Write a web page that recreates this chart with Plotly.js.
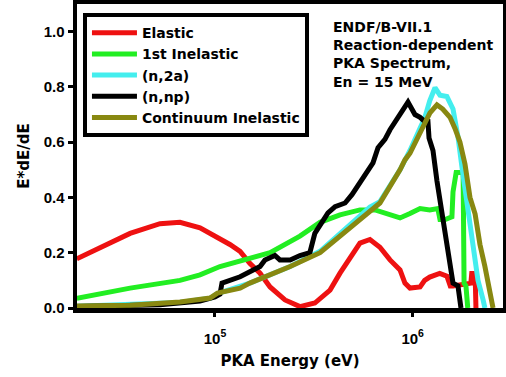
<!DOCTYPE html>
<html>
<head>
<meta charset="utf-8">
<script src="https://cdn.plot.ly/plotly-3.0.1.min.js"></script>
<style>html,body{margin:0;padding:0;background:#fff;}#chart{width:506px;height:377px;}</style>
</head>
<body>
<div id="chart"></div>
<script>
// Elastic
var elasticE = [2.0e4, 2.62e4, 3.72e4, 5.27e4, 6.65e4, 8.4e4, 1.06e5, 1.19e5, 1.34e5, 1.5e5, 1.69e5, 1.9e5, 2.26e5, 2.69e5, 3.2e5, 3.82e5, 4.29e5, 4.82e5, 5.41e5, 6.08e5, 6.83e5, 7.68e5, 8.63e5, 9.14e5, 9.69e5, 1.09e6, 1.15e6, 1.22e6, 1.37e6, 1.49e6, 1.55e6, 1.6e6, 1.74e6, 1.97e6, 1.99e6, 2.07e6, 2.09e6];
var elasticY = [0.178, 0.22, 0.27, 0.305, 0.31, 0.29, 0.253, 0.23, 0.205, 0.162, 0.126, 0.076, 0.029, 0.005, 0.018, 0.065, 0.126, 0.185, 0.235, 0.248, 0.22, 0.174, 0.138, 0.09, 0.072, 0.076, 0.10, 0.112, 0.125, 0.115, 0.08, 0.08, 0.085, 0.09, 0.125, 0.125, 0];
// 1st Inelastic
var inel1E = [2.0e4, 3.72e4, 6.65e4, 8.4e4, 1.06e5, 1.5e5, 1.9e5, 2.69e5, 3.4e5, 4.29e5, 5.41e5, 6.45e5, 6.83e5, 7.68e5, 8.63e5, 9.69e5, 1.09e6, 1.22e6, 1.34e6, 1.375e6, 1.46e6, 1.58e6, 1.6e6, 1.66e6, 1.8e6, 1.82e6, 1.86e6, 1.9e6];
var inel1Y = [0.035, 0.072, 0.10, 0.12, 0.15, 0.18, 0.20, 0.26, 0.31, 0.337, 0.355, 0.355, 0.35, 0.337, 0.326, 0.342, 0.36, 0.355, 0.36, 0.32, 0.32, 0.33, 0.42, 0.49, 0.49, 0.09, 0.08, 0];
// (n,2a)
var n2aE = [2.0e4, 6.65e4, 9.44e4, 1.03e5, 1.5e5, 2.4e5, 3.4e5, 4.29e5, 5.41e5, 6.08e5, 6.83e5, 8.63e5, 9.69e5, 1.089e6, 1.154e6, 1.22e6, 1.297e6, 1.375e6, 1.49e6, 1.6e6, 1.695e6, 1.776e6, 1.86e6, 1.95e6, 2.066e6, 2.14e6, 2.27e6, 2.32e6];
var n2aY = [0.006, 0.02, 0.035, 0.052, 0.09, 0.15, 0.205, 0.27, 0.33, 0.365, 0.385, 0.5, 0.57, 0.645, 0.69, 0.75, 0.797, 0.77, 0.765, 0.72, 0.62, 0.51, 0.415, 0.31, 0.2, 0.1, 0.03, 0];
// (n,np)
var nnpE = [2.0e4, 5.27e4, 8.4e4, 1.0e5, 1.06e5, 1.085e5, 1.34e5, 1.69e5, 1.79e5, 2.01e5, 2.13e5, 2.4e5, 2.69e5, 3.02e5, 3.2e5, 3.48e5, 3.73e5, 4.05e5, 4.55e5, 4.93e5, 5.41e5, 5.87e5, 6.3e5, 6.68e5, 7.24e5, 7.68e5, 8.14e5, 8.63e5, 9.14e5, 9.47e5, 1.027e6, 1.09e6, 1.15e6, 1.195e6, 1.21e6, 1.267e6, 1.327e6, 1.407e6, 1.474e6, 1.545e6, 1.6e6, 1.695e6, 1.755e6];
var nnpY = [0.005, 0.012, 0.025, 0.04, 0.05, 0.09, 0.113, 0.15, 0.174, 0.19, 0.174, 0.174, 0.19, 0.2, 0.27, 0.31, 0.344, 0.367, 0.38, 0.41, 0.453, 0.49, 0.525, 0.58, 0.61, 0.645, 0.674, 0.706, 0.73, 0.745, 0.70, 0.69, 0.675, 0.675, 0.615, 0.57, 0.46, 0.34, 0.24, 0.16, 0.09, 0.08, 0];
// Continuum Inelastic
var contE = [2.0e4, 3.72e4, 6.65e4, 9.44e4, 1.03e5, 1.34e5, 1.5e5, 1.9e5, 2.4e5, 3.4e5, 4.29e5, 5.41e5, 6.83e5, 8.63e5, 9.14e5, 9.69e5, 1.027e6, 1.09e6, 1.154e6, 1.223e6, 1.327e6, 1.42e6, 1.545e6, 1.637e6, 1.735e6, 1.84e6, 1.95e6, 2.07e6, 2.19e6, 2.32e6, 2.46e6, 2.55e6];
var contY = [0.007, 0.01, 0.022, 0.036, 0.054, 0.072, 0.09, 0.12, 0.15, 0.2, 0.26, 0.315, 0.38, 0.5, 0.536, 0.56, 0.6, 0.634, 0.67, 0.706, 0.735, 0.72, 0.69, 0.65, 0.6, 0.52, 0.4, 0.34, 0.23, 0.15, 0.065, 0];

var seriesNames = ['Elastic', '1st Inelastic', '(n,2a)', '(n,np)', 'Continuum Inelastic'];
var seriesColors = ['#ee1111', '#22ee22', '#44eeee', '#000000', '#888811'];
var xTickVals = [1e5, 1e6];
var xTickText = ['10<sup>5</sup>', '10<sup>6</sup>'];
var yTickVals = [0, 0.2, 0.4, 0.6, 0.8, 1.0];
var noteLines = ['ENDF/B-VII.1', 'Reaction-dependent', 'PKA Spectrum,', 'En = 15 MeV'];

var xs = [elasticE, inel1E, n2aE, nnpE, contE];
var ys = [elasticY, inel1Y, n2aY, nnpY, contY];
var traces = seriesNames.map(function (n, i) {
  return {x: xs[i], y: ys[i], name: n, type: 'scatter', mode: 'lines',
          line: {color: seriesColors[i], width: 5}};
});

var bold = {family: 'DejaVu Sans, sans-serif', weight: 'bold', color: '#000'};
var tickFont = {family: 'Liberation Sans, Arial, sans-serif', weight: 'bold', size: 15, color: '#000'};

var layout = {
  width: 506, height: 377,
  margin: {l: 77, r: 3, t: 4, b: 69},
  paper_bgcolor: '#fff', plot_bgcolor: '#fff',
  showlegend: true,
  legend: {x: 0.014, y: 0.97, xanchor: 'left', yanchor: 'top',
           bordercolor: '#000', borderwidth: 4, bgcolor: '#fff',
           font: Object.assign({size: 14}, bold), itemwidth: 45,
           tracegroupgap: 0},
  xaxis: {type: 'log', range: [4.302, 6.457], tickvals: xTickVals, ticktext: xTickText,
          ticks: 'outside', ticklen: 4, tickwidth: 3, tickcolor: '#000',
          showline: true, linewidth: 4.5, linecolor: '#000', mirror: true,
          showgrid: false, zeroline: false, tickfont: tickFont, ticklabelstandoff: 9,
          automargin: false,
          title: {text: 'PKA Energy (eV)', font: Object.assign({size: 15}, bold), standoff: 11}},
  yaxis: {range: [0, 1.1], tickvals: yTickVals, tickformat: '.1f',
          ticks: 'outside', ticklen: 5, tickwidth: 3, tickcolor: '#000',
          showline: true, linewidth: 4.5, linecolor: '#000', mirror: true,
          showgrid: false, zeroline: false, tickfont: tickFont, automargin: false,
          title: {text: 'E*dE/dE', font: Object.assign({size: 15}, bold), standoff: 12}},
  annotations: [{xref: 'paper', yref: 'paper', x: 0.596, y: 0.957, xanchor: 'left', yanchor: 'top',
                 align: 'left', showarrow: false, text: noteLines.join('<br>'),
                 font: Object.assign({size: 14}, bold)}]
};

Plotly.newPlot('chart', traces, layout, {displayModeBar: false, staticPlot: true});
</script>
</body>
</html>
